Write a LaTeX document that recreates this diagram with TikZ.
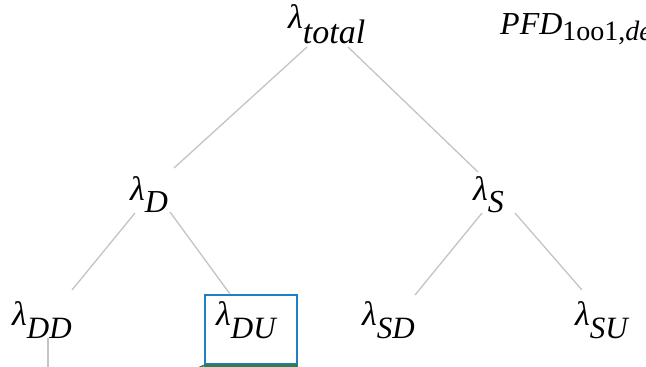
\documentclass[tikz,border=0pt]{standalone}
\usepackage{fontspec}
\setmainfont{Liberation Serif}
\definecolor{linkgray}{HTML}{C4C4C4}
\definecolor{boxblue}{HTML}{1F7FC6}
\definecolor{boxgreen}{HTML}{2E7D57}
\newcommand\lamlab[3]{{\fontsize{34}{40}\selectfont\itshape λ}\raisebox{-#3pt}{\fontsize{#2}{34}\selectfont\itshape #1}}
\tikzset{
  lab/.style={anchor=base west, inner sep=0pt},
  link/.style={draw=linkgray, line width=1.3pt},
  hibox/.style={draw=boxblue, line width=2.4pt, inner sep=0pt, anchor=north west,
    minimum width=92pt, minimum height=69pt}
}
\begin{document}
\begin{tikzpicture}[x=1pt,y=-1pt]
\useasboundingbox (0,0) rectangle (646,367);
\clip (0,0) rectangle (646,367);
\fill[white] (0,0) rectangle (646,367);
% nodes
\node[lab] (ltot) at (288,28) {\lamlab{total}{34}{15}};
\node[lab] (pfd) at (500,34) {{\fontsize{32}{36}\selectfont\itshape PFD}\raisebox{-6pt}{\fontsize{28}{32}\selectfont 1oo1,\itshape de}};
\node[lab] (lD) at (130,200) {\lamlab{D}{32}{12}};
\node[lab] (lS) at (473,200) {\lamlab{S}{32}{12}};
\node[lab] (lDD) at (12,325) {\lamlab{DD}{31}{13}};
\node[hibox] (box) at (204,294) {};
\node[lab] (lDU) at (216,325) {\lamlab{DU}{31}{13}};
\node[lab] (lSD) at (362,325) {\lamlab{SD}{31}{13}};
\node[lab] (lSU) at (575,325) {\lamlab{SU}{31}{13}};
\coordinate (ddend) at (48,370);
\coordinate (gend) at (194,370);
% connectors
\draw[link] ([shift={(19,19)}]ltot.base west) -- ([shift={(44,-32)}]lD.base west);
\draw[link] ([shift={(60,19)}]ltot.base west) -- ([shift={(5,-28)}]lS.base west);
\draw[link] ([shift={(5,13)}]lD.base west) -- ([shift={(60,-35)}]lDD.base west);
\draw[link] ([shift={(40,12)}]lD.base west) -- ([shift={(26,0)}]box.north west);
\draw[link] ([shift={(9,13)}]lS.base west) -- ([shift={(53,-30)}]lSD.base west);
\draw[link] ([shift={(42,13)}]lS.base west) -- ([shift={(7,-35)}]lSU.base west);
\draw[link] ([shift={(36,13)}]lDD.base west) -- (ddend);
\draw[draw=boxgreen, line width=2.4pt] (box.south west) -- (box.south east);
\draw[draw=boxgreen, line width=1.6pt] (box.south west) -- (gend);
\end{tikzpicture}
\end{document}
